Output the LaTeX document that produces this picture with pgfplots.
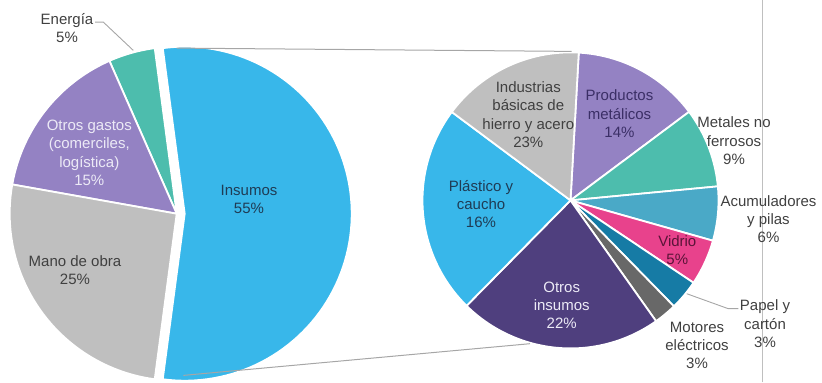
\documentclass[border=0pt]{standalone}
\usepackage{pgfplots}
\usepackage{pgfplotstable}
\pgfplotsset{compat=1.18}
\usepackage{fontspec}
\setmainfont{Liberation Sans}

\definecolor{cBlue}{HTML}{38B7EA}
\definecolor{cGray}{HTML}{BFBFBF}
\definecolor{cPurp}{HTML}{9482C3}
\definecolor{cTeal}{HTML}{4DBDAD}
\definecolor{cAcum}{HTML}{4AA9C7}
\definecolor{cPink}{HTML}{E8428C}
\definecolor{cPapel}{HTML}{167BA5}
\definecolor{cMot}{HTML}{686868}
\definecolor{cDPurp}{HTML}{4F3F7E}
\definecolor{cLine}{HTML}{A6A6A6}
\definecolor{cTxt}{HTML}{404040}
\definecolor{cNavy}{HTML}{1F3C55}
\definecolor{cPurpTxt}{HTML}{3B2F66}
\definecolor{cLightTxt}{HTML}{ECEAF6}
\definecolor{cVidTxt}{HTML}{5A1438}

\tikzset{lbl/.style={font=\fontsize{15}{18.3}\selectfont, align=center, inner sep=0pt, text=cTxt}}

% left pie (drawn shares, counter-clockwise from Insumos)
\pgfplotstableread{
slice share
Insumos 54.2
Energia 4.5
Otros 15.6
Mano 25.7
}\lefttable

% right pie (drawn shares, clockwise from the top)
\pgfplotstableread{
slice share
Productos 13.9
Metales 8.7
Acumuladores 5.9
Vidrio 5.0
Papel 3.3
Motores 2.5
OtrosInsumos 22.2
Plastico 22.8
Industrias 15.7
}\righttable

% cumulative angles, left pie
\pgfplotstablegetelem{0}{share}\of\lefttable
\pgfmathsetmacro\insHalf{1.8*\pgfplotsretval}
\xdef\cum{\insHalf}
\foreach \i in {1,2,3}{%
  \pgfplotstablegetelem{\i}{share}\of\lefttable
  \pgfmathsetmacro\nxt{\cum+3.6*\pgfplotsretval}%
  \expandafter\xdef\csname ls\i\endcsname{\cum}%
  \expandafter\xdef\csname le\i\endcsname{\nxt}%
  \xdef\cum{\nxt}%
}
% cumulative angles, right pie
\xdef\cum{86.8}
\foreach \i in {0,...,8}{%
  \pgfplotstablegetelem{\i}{share}\of\righttable
  \pgfmathsetmacro\nxt{\cum-3.6*\pgfplotsretval}%
  \expandafter\xdef\csname rs\i\endcsname{\cum}%
  \expandafter\xdef\csname re\i\endcsname{\nxt}%
  \xdef\cum{\nxt}%
}
\newcommand\LS[1]{\csname ls#1\endcsname}
\newcommand\LE[1]{\csname le#1\endcsname}
\newcommand\RS[1]{\csname rs#1\endcsname}
\newcommand\RE[1]{\csname re#1\endcsname}

% slice: cx, cy, r, angle from, angle to, colour
\newcommand\pieslice[6]{%
  \edef\tmpa{#4}\edef\tmpb{#5}%
  \edef\doslice{\noexpand\addplot[fill=#6, draw=white, line width=1.8pt, line join=round,
     domain=\tmpa:\tmpb, samples=90, variable=\noexpand\t]
     ({#1+#3*cos(\noexpand\t)},{#2+#3*sin(\noexpand\t)}) -- (axis cs:#1,#2) -- cycle;}%
  \doslice
}

\colorlet{colR0}{cPurp}
\colorlet{colR1}{cTeal}
\colorlet{colR2}{cAcum}
\colorlet{colR3}{cPink}
\colorlet{colR4}{cPapel}
\colorlet{colR5}{cMot}
\colorlet{colR6}{cDPurp}
\colorlet{colR7}{cBlue}
\colorlet{colR8}{cGray}
\colorlet{colL1}{cTeal}
\colorlet{colL2}{cPurp}
\colorlet{colL3}{cGray}

\begin{document}
\begin{tikzpicture}
\begin{axis}[x=1pt, y=1pt, xmin=0, xmax=822, ymin=0, ymax=382,
  enlargelimits=false, hide axis, clip=false, scale only axis]

% invisible frame so that the picture keeps the full 822 x 382 extent
\addplot[draw=none, forget plot] coordinates {(0,0) (822,382)};

% left pie
\pieslice{184.7}{168.7}{167}{-\insHalf}{\insHalf}{cBlue}
\pgfplotsinvokeforeach{1,2,3}{\pieslice{176.7}{168.7}{167}{\LS{#1}}{\LE{#1}}{colL#1}}

% right pie
\pgfplotsinvokeforeach{0,...,8}{\pieslice{570.5}{182}{148}{\RE{#1}}{\RS{#1}}{colR#1}}

% connector lines
\addplot[cLine, line width=1pt] coordinates {(176.7,334.3) (571.7,331)};
\addplot[cLine, line width=1pt] coordinates {(183.3,7) (530,38.7)};
% leader lines
\addplot[cLine, line width=0.9pt] coordinates {(95,360.3) (103.3,360.3) (133.3,332)};
\addplot[cLine, line width=0.9pt] coordinates {(686.7,88.7) (728.3,73.7) (738.3,73.7)};
% frame line at right
\addplot[cGray, line width=0.8pt] coordinates {(762.7,0) (762.7,382)};

% labels
\node[lbl] at (axis cs:67,354.5) {Energía\\5\%};
\node[lbl, text=cLightTxt] at (axis cs:89.3,229.5) {Otros gastos\\(comerciles,\\logística)\\15\%};
\node[lbl, text=cNavy] at (axis cs:249,182.8) {Insumos\\55\%};
\node[lbl] at (axis cs:75,112.3) {Mano de obra\\25\%};
\node[lbl] at (axis cs:528.3,267.8) {Industrias\\básicas de\\hierro y acero\\23\%};
\node[lbl, text=cPurpTxt] at (axis cs:619.5,268.7) {Productos\\metálicos\\14\%};
\node[lbl, text=cNavy] at (axis cs:481,178.2) {Plástico y\\caucho\\16\%};
\node[lbl, text=cLightTxt] at (axis cs:561.7,77) {Otros\\insumos\\22\%};
\node[lbl, text=cVidTxt] at (axis cs:677.3,132.2) {Vidrio\\5\%};
\node[lbl] at (axis cs:734,241.7) {Metales no\\ferrosos\\9\%};
\node[lbl] at (axis cs:768.5,163.3) {Acumuladores\\y pilas\\6\%};
\node[lbl] at (axis cs:765,58.7) {Papel y\\cartón\\3\%};
\node[lbl] at (axis cs:697,37) {Motores\\eléctricos\\3\%};
\end{axis}
\end{tikzpicture}
\end{document}
